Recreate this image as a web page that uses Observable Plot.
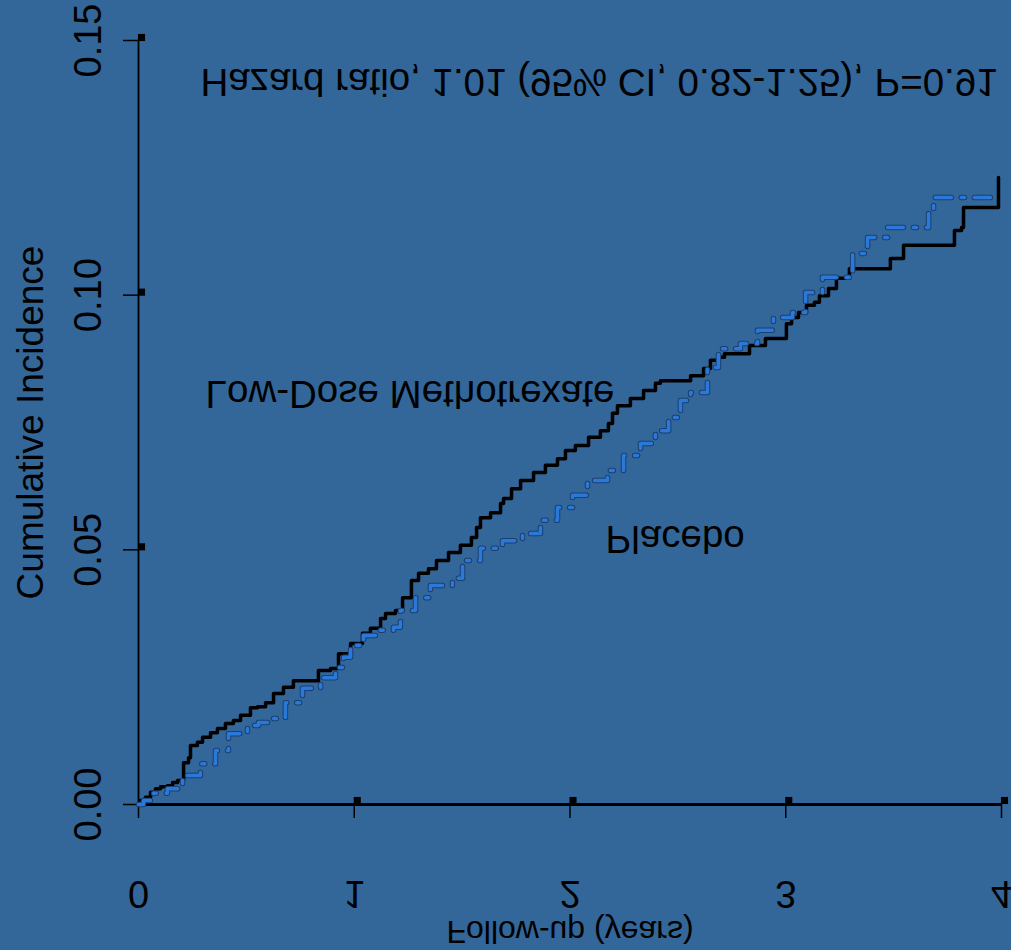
<!DOCTYPE html>
<html>
<head>
<meta charset="utf-8">
<script src="https://cdn.jsdelivr.net/npm/d3@7"></script>
<script src="https://cdn.jsdelivr.net/npm/@observablehq/plot@0.6"></script>
<style>
  html, body { margin: 0; padding: 0; background: #336699; }
  #chart svg { display: block; }
</style>
</head>
<body>
<div id="chart"></div>
<script>
// ---- Data ----
const xTicks = [0, 1, 2, 3, 4];
const yTicks = [0, 0.05, 0.10, 0.15];

// Low-Dose Methotrexate: cumulative incidence step function (time in years)
const mtxTime = [0, 0.009, 0.032, 0.056, 0.079, 0.102, 0.134, 0.158, 0.181, 0.209, 0.232, 0.241, 0.273, 0.297, 0.334, 0.366, 0.403, 0.440, 0.473, 0.519, 0.552, 0.589, 0.626, 0.672, 0.718, 0.834, 0.890, 0.927, 0.983, 1.038, 1.075, 1.122, 1.145, 1.191, 1.224, 1.265, 1.298, 1.344, 1.381, 1.437, 1.492, 1.543, 1.567, 1.585, 1.632, 1.678, 1.692, 1.729, 1.771, 1.831, 1.886, 1.942, 1.979, 2.025, 2.086, 2.141, 2.178, 2.197, 2.220, 2.280, 2.341, 2.396, 2.419, 2.559, 2.619, 2.651, 2.688, 2.716, 2.832, 2.906, 3.003, 3.027, 3.059, 3.096, 3.133, 3.156, 3.198, 3.235, 3.295, 3.485, 3.546, 3.782, 3.815, 3.824, 3.986];
const mtxInc  = [0, 0.0008, 0.0014, 0.0024, 0.0031, 0.0035, 0.0037, 0.0043, 0.0047, 0.0082, 0.0092, 0.0116, 0.0122, 0.0132, 0.0141, 0.0149, 0.0159, 0.0165, 0.0175, 0.0190, 0.0192, 0.0200, 0.0218, 0.0230, 0.0243, 0.0263, 0.0267, 0.0296, 0.0316, 0.0336, 0.0346, 0.0365, 0.0375, 0.0381, 0.0406, 0.0440, 0.0454, 0.0463, 0.0479, 0.0495, 0.0509, 0.0524, 0.0544, 0.0563, 0.0573, 0.0591, 0.0601, 0.0620, 0.0636, 0.0652, 0.0666, 0.0679, 0.0695, 0.0705, 0.0721, 0.0734, 0.0748, 0.0768, 0.0783, 0.0797, 0.0813, 0.0827, 0.0832, 0.0842, 0.0856, 0.0872, 0.0878, 0.0885, 0.0901, 0.0915, 0.0944, 0.0956, 0.0966, 0.0980, 0.0986, 0.0999, 0.1013, 0.1033, 0.1052, 0.1072, 0.1098, 0.1127, 0.1133, 0.1172, 0.1231];

// Placebo
const plaTime = [0, 0.023, 0.070, 0.134, 0.204, 0.287, 0.357, 0.417, 0.505, 0.556, 0.626, 0.681, 0.760, 0.844, 0.913, 0.950, 0.983, 1.043, 1.099, 1.182, 1.214, 1.284, 1.353, 1.455, 1.502, 1.585, 1.687, 1.780, 1.863, 1.942, 2.012, 2.081, 2.174, 2.248, 2.327, 2.396, 2.457, 2.512, 2.559, 2.637, 2.688, 2.790, 2.869, 2.943, 3.031, 3.092, 3.170, 3.310, 3.379, 3.472, 3.662, 3.685, 3.986];
const plaInc  = [0, 0.0008, 0.0022, 0.0031, 0.0057, 0.0080, 0.0106, 0.0139, 0.0155, 0.0161, 0.0169, 0.0200, 0.0228, 0.0249, 0.0269, 0.0289, 0.0312, 0.0332, 0.0342, 0.0348, 0.0381, 0.0406, 0.0430, 0.0444, 0.0479, 0.0503, 0.0518, 0.0532, 0.0558, 0.0583, 0.0607, 0.0636, 0.0656, 0.0685, 0.0709, 0.0734, 0.0760, 0.0793, 0.0809, 0.0858, 0.0895, 0.0905, 0.0931, 0.0956, 0.0966, 0.1005, 0.1035, 0.1082, 0.1113, 0.1133, 0.1166, 0.1192, 0.1192];

// Annotations
const annoText = ["Hazard ratio, 1.01 (95% CI, 0.82-1.25), P=0.91", "Low-Dose Methotrexate", "Placebo"];
const annoX = [0.287, 0.311, 2.165];
const annoY = [0.1416, 0.0803, 0.0518];

// ---- Build tables ----
const mtx = mtxTime.map((t, i) => ({t, y: mtxInc[i]}));
const pla = plaTime.map((t, i) => ({t, y: plaInc[i]}));
const anno = annoText.map((text, i) => ({text, x: annoX[i], y: annoY[i]}));

const FONT = "'Liberation Sans', Arial, Helvetica, sans-serif";

const svg = Plot.plot({
  width: 1011,
  height: 950,
  marginLeft: 138,
  marginRight: 10,
  marginTop: 40,
  marginBottom: 146,
  style: {background: "#336699", color: "black", fontFamily: FONT},
  x: {domain: [0, 4]},
  y: {domain: [0, 0.15]},
  marks: [
    Plot.axisX({ticks: xTicks, tickSize: 14, tickPadding: 62, fontSize: 38, tickFormat: d => String(d), label: null, strokeWidth: 1.5}),
    Plot.axisY({ticks: yTicks, tickSize: 15, tickPadding: 23, tickRotate: -90, fontSize: 38, tickFormat: d3.format(".2f"), label: null, strokeWidth: 1.5}),
    Plot.ruleY([0], {stroke: "black", strokeWidth: 3}),
    Plot.ruleX([0], {stroke: "black", strokeWidth: 1.8}),
    Plot.dot(xTicks.filter(d => d > 0), {x: d => d, y: 0, symbol: "square", r: 4, fill: "black", dx: 3, dy: -4}),
    Plot.dot(yTicks.filter(d => d > 0), {x: 0, y: d => d, symbol: "square", r: 4, fill: "black", dx: 3, dy: -3}),
    Plot.line(mtx, {x: "t", y: "y", curve: "step-after", stroke: "black", strokeWidth: 3.5}),
    Plot.line(pla, {x: "t", y: "y", curve: "step-after", stroke: "#1c3f70", strokeWidth: 5.5, strokeDasharray: "16,10,3,10"}),
    Plot.line(pla, {x: "t", y: "y", curve: "step-after", stroke: "#2a78d8", strokeWidth: 3.5, strokeDasharray: "16,10,3,10"}),
    Plot.text(anno, {x: "x", y: "y", text: "text", textAnchor: "start", lineAnchor: "middle", fontSize: 38.5, fill: "black", ariaDescription: "flip"}),
    Plot.text(["Follow-up (years)"], {frameAnchor: "bottom", textAnchor: "middle", dy: 138, lineAnchor: "bottom", fontSize: 32, fill: "black", ariaDescription: "flip"}),
    Plot.text(["Cumulative Incidence"], {frameAnchor: "left", textAnchor: "middle", dx: -96, rotate: -90, lineAnchor: "bottom", fontSize: 37, fill: "black"})
  ]
});

// Flip horizontal texts vertically (as in the reference)
const flipTargets = [
  ...svg.querySelectorAll('g[aria-label="x-axis tick label"] text'),
  ...svg.querySelectorAll('g[aria-description="flip"] text')
];
for (const t of flipTargets) {
  const g = document.createElementNS("http://www.w3.org/2000/svg", "g");
  g.style.transformBox = "fill-box";
  g.style.transformOrigin = "center";
  g.style.transform = "scaleY(-1)";
  t.parentNode.insertBefore(g, t);
  g.appendChild(t);
}

document.getElementById("chart").appendChild(svg);
</script>
</body>
</html>
